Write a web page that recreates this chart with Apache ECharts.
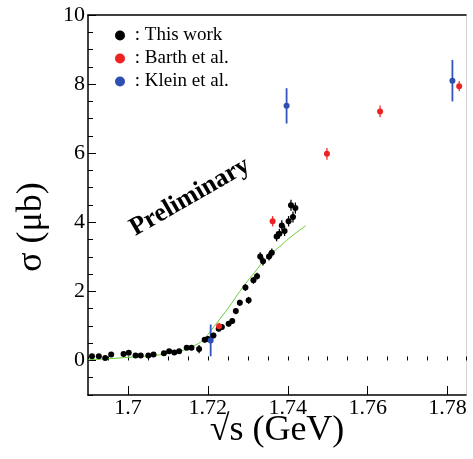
<!DOCTYPE html>
<html>
<head>
<meta charset="utf-8">
<script src="https://cdn.jsdelivr.net/npm/echarts@6/dist/echarts.min.js"></script>
<style>html,body{margin:0;padding:0;background:#fff}#c{width:473px;height:459px}</style>
</head>
<body>
<div id="c"></div>
<script>
// ---- data ----
const thisWorkX = [1.6910,1.6927,1.6943,1.6958,1.6989,1.7002,1.7019,1.7032,1.7051,1.7064,1.7090,1.7103,1.7116,1.7128,1.7147,1.7159,1.7178,1.7192,1.7200,1.7214,1.7227,1.7235,1.7252,1.7261,1.7270,1.7280,1.7294,1.7302,1.7314,1.7323,1.7331,1.7338,1.7353,1.7360,1.7372,1.7379,1.7385,1.7392,1.7402,1.7408,1.7413,1.7419];
const thisWorkY = [0.12,0.12,0.07,0.17,0.19,0.22,0.14,0.14,0.14,0.17,0.21,0.27,0.23,0.27,0.37,0.37,0.33,0.60,0.62,0.72,0.92,0.97,1.06,1.14,1.43,1.67,2.11,1.74,2.32,2.44,3.01,2.87,3.01,3.12,3.59,3.67,3.91,3.75,4.03,4.49,4.15,4.41];
const thisWorkErr = [0.04,0.04,0.04,0.04,0.04,0.04,0.04,0.04,0.04,0.04,0.05,0.05,0.05,0.05,0.06,0.06,0.12,0.08,0.08,0.08,0.08,0.08,0.08,0.08,0.09,0.09,0.1,0.1,0.1,0.1,0.12,0.12,0.12,0.12,0.14,0.14,0.15,0.15,0.15,0.16,0.16,0.16];
const barthX = [1.7228,1.7362,1.7498,1.7631,1.7829];
const barthY = [0.99,4.03,5.98,7.21,7.94];
const barthErr = [0.1,0.15,0.17,0.17,0.15];
const kleinX = [1.7207,1.7397,1.7812];
const kleinY = [0.58,7.37,8.10];
const kleinErr = [0.46,0.51,0.6];
const curveX = [1.690,1.695,1.700,1.705,1.710,1.714,1.717,1.719,1.721,1.723,1.725,1.728,1.731,1.735,1.738,1.741,1.7445];
const curveY = [0.02,0.05,0.09,0.13,0.20,0.30,0.45,0.62,0.90,1.20,1.50,2.00,2.45,3.00,3.30,3.60,3.90];
const xTicks = [1.70,1.72,1.74,1.76,1.78];
const yTicks = [0,2,4,6,8,10];
const seriesNames = ['This work','Barth et al.','Klein et al.'];

const FONT = 'Liberation Serif';
const xMin = 1.69, xMax = 1.7846, yMin = -1, yMax = 10;

function zip(xs, ys){ return xs.map((x,i)=>[x, ys[i]]); }
function errSeries(xs, ys, es, color, width){
  return {
    type:'custom', silent:true, z:2,
    data: xs.map((x,i)=>[x, ys[i]-es[i], ys[i]+es[i]]),
    encode:{x:0, y:[1,2]},
    renderItem:function(params, api){
      const p1 = api.coord([api.value(0), api.value(1)]);
      const p2 = api.coord([api.value(0), api.value(2)]);
      return {type:'line', shape:{x1:p1[0], y1:p1[1], x2:p2[0], y2:p2[1]}, style:{stroke:color, lineWidth:width}};
    }
  };
}
const fmt = v => String(+(+v).toFixed(3));

const chart = echarts.init(document.getElementById('c'), null, {renderer:'canvas'});
chart.setOption({
  animation:false,
  backgroundColor:'#fff',
  grid:{left:88, right:7, top:15, bottom:64, containLabel:false},
  xAxis:[
    {type:'value', min:xMin, max:xMax, position:'bottom',
     axisLine:{show:true, onZero:false, lineStyle:{color:'#000', width:1.5}},
     axisTick:{show:true, inside:true, length:9, customValues:xTicks, lineStyle:{color:'#000', width:1}},
     axisLabel:{show:true, customValues:xTicks, formatter:fmt, fontFamily:FONT, fontSize:22, color:'#000', margin:2},
     splitLine:{show:false}},
    {type:'value', min:xMin, max:xMax, interval:0.005, position:'bottom',
     axisLine:{show:false}, axisTick:{show:true, inside:true, length:4, lineStyle:{color:'#000'}},
     axisLabel:{show:false}, splitLine:{show:false}},
    {type:'value', min:xMin, max:xMax, position:'top',
     axisLine:{show:true, onZero:false, lineStyle:{color:'#000', width:1.5}}, axisTick:{show:false},
     axisLabel:{show:false}, splitLine:{show:false}}
  ],
  yAxis:[
    {type:'value', min:yMin, max:yMax, interval:1, position:'left',
     axisLine:{show:true, onZero:false, lineStyle:{color:'#000', width:1.5}},
     axisTick:{show:true, inside:true, length:8, customValues:yTicks, lineStyle:{color:'#000'}},
     axisLabel:{show:true, customValues:yTicks, fontFamily:FONT, fontSize:22, color:'#000', margin:3},
     splitLine:{show:false}},
    {type:'value', min:yMin, max:yMax, interval:0.5, position:'left',
     axisLine:{show:false}, axisTick:{show:true, inside:true, length:5, lineStyle:{color:'#000'}},
     axisLabel:{show:false}, splitLine:{show:false}},
    {type:'value', min:yMin, max:yMax, position:'right',
     axisLine:{show:true, onZero:false, lineStyle:{color:'#d4d4d4', width:1}}, axisTick:{show:false},
     axisLabel:{show:false}, splitLine:{show:false}}
  ],
  legend:{
    show:true, orient:'vertical', left:110, top:21, itemWidth:10, itemHeight:10, itemGap:4,
    icon:'circle', selectedMode:false, data:seriesNames,
    formatter: n => ' : ' + n,
    textStyle:{fontFamily:FONT, fontSize:19, color:'#000', lineHeight:19}
  },
  series:[
    {type:'line', data:zip(curveX, curveY), smooth:true, showSymbol:false, symbol:'none', silent:true,
     lineStyle:{color:'#66cc33', width:1}, z:1},
    errSeries(thisWorkX, thisWorkY, thisWorkErr, '#000', 1.3),
    errSeries(barthX, barthY, barthErr, '#f03030', 1.3),
    errSeries(kleinX, kleinY, kleinErr, '#3355bb', 1.8),
    {name:seriesNames[0], type:'scatter', data:zip(thisWorkX, thisWorkY), symbol:'circle', symbolSize:6,
     itemStyle:{color:'#000', opacity:1}, z:3},
    {name:seriesNames[1], type:'scatter', data:zip(barthX, barthY), symbol:'circle', symbolSize:6,
     itemStyle:{color:'#ee2222', opacity:1}, z:3},
    {name:seriesNames[2], type:'scatter', data:zip(kleinX, kleinY), symbol:'circle', symbolSize:6,
     itemStyle:{color:'#2e4fb0', opacity:1}, z:3}
  ],
  graphic:[
    {type:'text', x:190, y:197, rotation:0.52, z:10,
     style:{text:'Preliminary', font:'bold 26px "Liberation Serif"', fill:'#000', align:'center', verticalAlign:'middle'}},
    {type:'text', x:277, y:431, z:10,
     style:{text:'√s (GeV)', font:'36px "Liberation Serif"', fill:'#000', align:'center', verticalAlign:'middle'}},
    {type:'text', x:32, y:227, rotation:Math.PI/2, z:10,
     style:{text:'σ (μb)', font:'36px "Liberation Serif"', fill:'#000', align:'center', verticalAlign:'middle'}}
  ]
});
</script>
</body>
</html>
